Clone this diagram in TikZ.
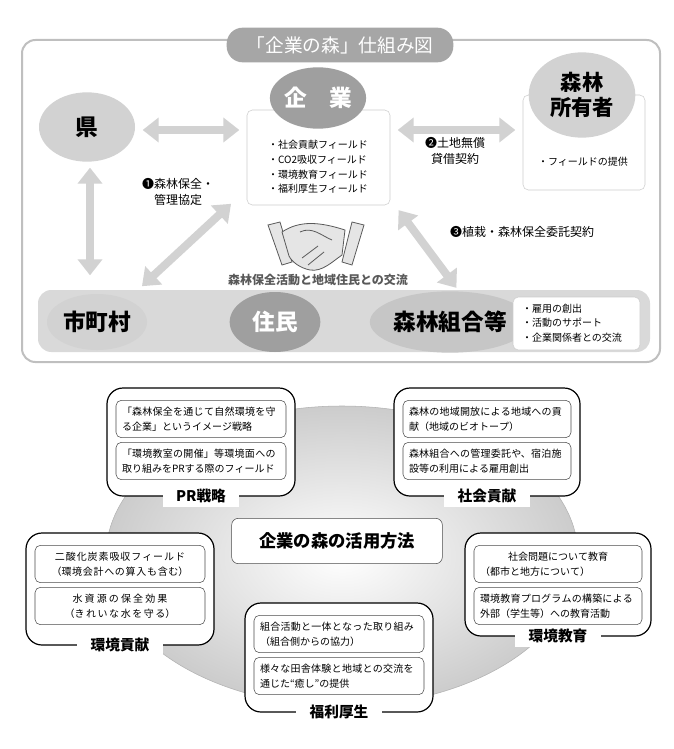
\documentclass[tikz,border=0pt]{standalone}
\usepackage{fontspec}
\setmainfont{Noto Sans CJK JP}
\XeTeXlinebreaklocale "ja"
\XeTeXlinebreakskip=0pt plus 1pt
\usetikzlibrary{arrows.meta,shapes.geometric}
\tikzset{
  lightell/.style={ellipse,fill=gray!35,inner sep=0pt,minimum width=75pt,minimum height=50pt,font=\fontsize{17}{19}\selectfont\bfseries},
  darkell/.style={ellipse,fill=gray!75,text=white,inner sep=0pt,minimum width=72pt,minimum height=46pt,font=\fontsize{17}{19}\selectfont\bfseries},
  itemtxt/.style={font=\fontsize{7.5}{11}\selectfont,align=left},
  bigarrow/.style={{Triangle[length=12pt,width=18pt]}-{Triangle[length=12pt,width=18pt]},line width=6pt,draw=gray!35,shorten <=2pt,shorten >=2pt},
  frame/.style={draw=black,line width=0.9pt,rounded corners=12pt},
  inbox/.style={draw=black!70,rounded corners=4pt,fill=white},
  grplabel/.style={fill=white,font=\fontsize{11}{13}\selectfont\bfseries,inner xsep=10pt},
}
\begin{document}
\begin{tikzpicture}[x=0.75pt,y=-0.75pt]
\useasboundingbox (0,0) rectangle (674,749);
% ---- top part
\draw[draw=gray!50,line width=1.5pt,rounded corners=10pt,fill=white] (22,40) rectangle (660,362);
\node[fill=gray!70,text=white,rounded corners=12pt,minimum width=170pt,minimum height=26pt,font=\fontsize{14}{16}\selectfont] (title) at (340,45) {「企業の森」仕組み図};
\fill[gray!30,rounded corners=10pt] (38,290) rectangle (650,352);
%
\draw[draw=gray!40,rounded corners=4pt,fill=white] (247,110) rectangle (390,205);
\draw[draw=gray!40,rounded corners=4pt,fill=white] (523,95) rectangle (645,190);
\node[lightell,minimum width=72pt,minimum height=52pt] (ken) at (87,127) {県};
\node[darkell] (kigyo) at (318,98) {企\quad 業};
\node[lightell,minimum width=80pt,minimum height=64pt,align=center,font=\fontsize{16}{19}\selectfont\bfseries] (shoyu) at (582,95) {森林\\所有者};
\node[itemtxt] (fields) at (318,167) {・社会貢献フィールド\\・CO2吸収フィールド\\・環境教育フィールド\\・福利厚生フィールド};
\node[itemtxt] (teikyo) at (583,162) {・フィールドの提供};
%
\node[lightell,minimum width=75pt,minimum height=42pt] (shicho) at (97,322) {市町村};
\node[darkell,minimum width=68pt,minimum height=45pt] (jumin) at (275,322) {住民};
\node[lightell,minimum width=100pt,minimum height=46pt,fill=gray!45] (kumiai) at (450,322) {森林組合等};
\draw[draw=gray!40,rounded corners=4pt,fill=white] (513,297) rectangle (640,350);
\node[itemtxt] (koyo) at (572,323) {・雇用の創出\\・活動のサポート\\・企業関係者との交流};
%
\coordinate (kigyoL) at (242,130);
\coordinate (kigyoR) at (395,130);
\coordinate (kigyoBL) at (233,202);
\coordinate (kigyoBR) at (397,208);
\coordinate (shoyuL) at (518,130);
\coordinate (kenR) at (140,130);
\coordinate (kenB) at (90,165);
\coordinate (shichoT) at (90,278);
\coordinate (shichoTR) at (140,288);
\coordinate (kumiaiT) at (458,290);
\draw[bigarrow] (kenR) -- (kigyoL);
\draw[bigarrow] (kigyoR) -- (shoyuL);
\draw[bigarrow] (kenB) -- (shichoT);
\draw[bigarrow] (shichoTR) -- (kigyoBL);
\draw[bigarrow] (kumiaiT) -- (kigyoBR);
%
\node[font=\fontsize{9}{12}\selectfont,align=center] (kyotei) at (178,192) {❶森林保全・\\管理協定};
\node[font=\fontsize{9}{12}\selectfont,align=center] (taishaku) at (455,151) {❷土地無償\\貸借契約};
\node[font=\fontsize{9}{12}\selectfont] (itaku) at (522,232) {❸植栽・森林保全委託契約};
\node[font=\fontsize{9}{11}\selectfont\bfseries,text=gray!70!black] (koryu) at (318,280) {森林保全活動と地域住民との交流};
% handshake
\begin{scope}[draw=gray!70!black,fill=gray!20,line width=0.6pt]
\filldraw (268,225) -- (280,222) -- (292,262) -- (282,265) -- cycle;
\filldraw (352,222) -- (364,225) -- (352,265) -- (342,262) -- cycle;
\filldraw (282,232) .. controls (300,220) and (320,222) .. (345,230) -- (342,255) .. controls (332,262) and (322,272) .. (310,270) .. controls (300,268) and (292,262) .. (289,256) -- cycle;
\draw (300,232) .. controls (312,226) and (322,236) .. (332,240);
\draw (302,258) -- (318,246);
\draw (308,265) -- (324,252);
\end{scope}
% ---- bottom part
\shade[inner color=white,outer color=gray!40,draw=gray!60] (342,556) ellipse (236 and 150);
\node[draw=black!70,rounded corners=5pt,fill=white,minimum width=158pt,minimum height=34pt,font=\fontsize{13}{15}\selectfont\bfseries] (katsuyo) at (337,541) {企業の森の活用方法};
%
\newcommand\grp[9]{%
  \draw[frame,fill=white] (#1,#2) rectangle (#3,#4);
  \node[inbox,minimum width=(#3-#1-18)*0.75pt,minimum height=28pt,itemtxt,align=#9,text width=(#3-#1-30)*0.75pt] (#5a) at ({(#1+#3)/2},#2+31) {#6};
  \node[inbox,minimum width=(#3-#1-18)*0.75pt,minimum height=28pt,itemtxt,align=#9,text width=(#3-#1-30)*0.75pt] (#5b) at ({(#1+#3)/2},#2+73) {#7};
  \node[grplabel] (#5l) at ({(#1+#3)/2},#4) {#8};
}
\grp{107}{388}{295}{496}{pr}{「森林保全を通じて自然環境を守る企業」というイメージ戦略}{「環境教室の開催」等環境面への取り組みをPRする際のフィールド}{PR戦略}{left}
\grp{394}{388}{580}{496}{sk}{森林の地域開放による地域への貢献（地域のビオトープ）}{森林組合への管理委託や、宿泊施設等の利用による雇用創出}{社会貢献}{left}
\grp{26}{533}{214}{645}{kk}{二酸化炭素吸収フィールド\\（環境会計への算入も含む）}{水資源の保全効果\\（きれいな水を守る）}{環境貢献}{center}
\grp{465}{533}{651}{636}{ke}{\centering 社会問題について教育\\（都市と地方について）}{環境教育プログラムの構築による外部（学生等）への教育活動}{環境教育}{left}
\grp{245}{603}{433}{712}{fk}{組合活動と一体となった取り組み（組合側からの協力）}{様々な田舎体験と地域との交流を通じた“癒し”の提供}{福利厚生}{left}
\end{tikzpicture}
\end{document}
